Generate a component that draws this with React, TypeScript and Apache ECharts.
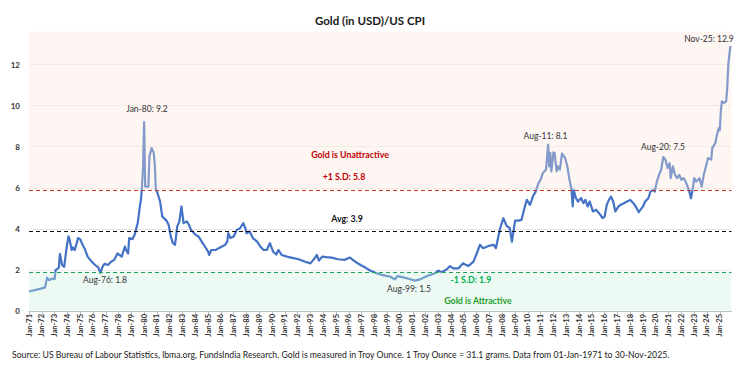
import React, { useEffect, useRef } from "react";
import * as echarts from "echarts";

// months since Jan-1971 (0 = Jan-71, 658 = Nov-25)
const pointMonths = [
  0, 12, 15, 17, 19, 22, 24, 25, 28, 29, 31, 33, 35, 37, 38, 40, 41, 43, 46, 48,
  50, 52, 55, 58, 62, 65, 67, 69, 71, 74, 77, 80, 83, 87, 90, 91, 93, 94, 97, 99,
  100, 102, 104, 105, 106, 107, 108, 109, 110, 112, 113, 115, 117, 118, 119, 120, 121, 123, 125, 127,
  129, 131, 133, 135, 137, 139, 141, 143, 145, 148, 150, 152, 156, 159, 162, 165, 168, 169, 171, 175,
  178, 181, 184, 186, 187, 189, 192, 195, 198, 201, 203, 204, 207, 210, 214, 217, 220, 223, 226, 229,
  232, 234, 237, 242, 246, 253, 259, 264, 268, 270, 272, 275, 279, 284, 290, 296, 301, 306, 311, 315,
  318, 320, 326, 331, 336, 339, 343, 346, 351, 357, 362, 367, 372, 376, 381, 384, 387, 392, 395, 398,
  403, 407, 412, 417, 420, 423, 426, 431, 436, 438, 440, 442, 445, 448, 451, 453, 456, 459, 462, 465,
  467, 470, 473, 475, 478, 480, 482, 485, 487, 488, 489, 490, 492, 493, 495, 496, 498, 500, 503, 505,
  507, 509, 510, 511, 513, 515, 518, 520, 522, 524, 526, 529, 532, 536, 538, 540, 542, 544, 546, 548,
  550, 553, 555, 558, 561, 564, 567, 570, 572, 576, 578, 581, 583, 586, 587, 589, 591, 593, 595, 597,
  599, 601, 602, 604, 606, 608, 610, 612, 614, 616, 619, 621, 623, 624, 626, 629, 631, 633, 635, 637,
  640, 641, 644, 645, 647, 648, 649, 650, 652, 654, 655, 656, 657, 658,
];

// Gold (USD) / US CPI ratio
const pointValues = [
  0.95, 1.1, 1.15, 1.62, 1.5, 1.58, 1.55, 2.0, 2.1, 2.78, 2.24, 2.15, 2.97, 3.63, 3.5, 2.97, 3.1, 2.97, 3.55, 3.5,
  3.25, 3.06, 2.65, 2.45, 2.24, 2.12, 1.84, 2.16, 2.3, 2.24, 2.4, 2.49, 2.8, 2.65, 3.14, 2.97, 2.8, 3.55, 3.5, 3.7,
  3.9, 4.28, 5.09, 5.4, 6.06, 7.0, 9.2, 6.06, 6.06, 6.06, 7.53, 7.93, 7.7, 7.12, 5.9, 5.82, 5.66, 5.33, 4.6, 4.5,
  4.4, 4.2, 3.63, 3.3, 3.22, 4.11, 4.35, 5.09, 4.28, 4.36, 4.2, 3.95, 3.72, 3.63, 3.38, 3.14, 2.89, 2.73, 2.97, 2.97,
  3.06, 3.14, 3.22, 3.38, 3.79, 3.55, 3.63, 3.95, 4.03, 4.28, 4.03, 3.79, 3.87, 3.55, 3.38, 3.14, 2.97, 2.97, 3.3, 2.89,
  2.75, 2.97, 2.73, 2.65, 2.6, 2.52, 2.4, 2.32, 2.57, 2.73, 2.45, 2.65, 2.62, 2.6, 2.52, 2.49, 2.6, 2.4, 2.24, 2.13,
  2.03, 1.97, 1.84, 1.76, 1.7, 1.67, 1.54, 1.7, 1.64, 1.56, 1.48, 1.54, 1.67, 1.75, 1.84, 1.97, 1.88, 2.03, 2.19, 2.08,
  2.08, 2.32, 2.19, 2.4, 2.8, 3.22, 3.06, 3.17, 3.22, 3.06, 3.55, 4.03, 4.52, 4.15, 4.03, 3.38, 4.4, 4.4, 4.44, 5.05,
  5.41, 5.17, 5.62, 5.78, 6.23, 6.4, 6.72, 6.88, 8.1, 7.04, 7.7, 6.8, 7.72, 7.69, 6.8, 7.04, 6.88, 7.66, 7.44, 7.04,
  6.4, 5.9, 5.09, 5.9, 5.5, 5.33, 5.5, 5.25, 5.41, 5.09, 5.33, 4.85, 4.93, 4.68, 4.52, 4.6, 5.17, 5.41, 5.57, 5.33,
  4.85, 5.09, 5.17, 5.25, 5.33, 5.41, 5.25, 5.01, 4.81, 5.09, 5.33, 5.49, 5.82, 5.9, 5.82, 6.3, 6.63, 6.88, 7.5, 7.37,
  6.96, 7.2, 6.47, 7.04, 6.63, 6.47, 6.63, 6.39, 6.47, 6.3, 5.9, 5.49, 6.06, 6.47, 6.3, 6.47, 6.06, 6.63, 7.04, 7.45,
  7.37, 7.94, 8.19, 8.5, 8.9, 8.8, 9.72, 10.21, 10.13, 10.21, 10.86, 12.0, 12.5, 12.9,
];

const firstYear = 1971;
const lastMonth = 659;
const yMax = 13.6;
const yTicks = [0, 2, 4, 6, 8, 10, 12];

const plusSD = 5.87;
const avg = 3.9;
const minusSD = 1.9;

const FONT = "Lato, 'Liberation Sans', sans-serif";

export default function App() {
  const ref = useRef<HTMLDivElement>(null);
  useEffect(() => {
    if (!ref.current) return;
    const chart = echarts.init(ref.current, null, { renderer: "svg" });
    const data = pointMonths.map((m, i) => [m, pointValues[i]]);
    const txt = (text: string, x: number, y: number, fill: string, weight: string, size: number) => ({
      type: "text",
      x,
      y,
      silent: true,
      z: 100,
      style: {
        text,
        fill,
        fontFamily: FONT,
        fontWeight: weight,
        fontSize: size,
        align: "center",
        verticalAlign: "middle",
      },
    });
    chart.setOption({
      animation: false,
      backgroundColor: "#ffffff",
      title: {
        text: "Gold (in USD)/US CPI",
        left: "center",
        top: 9,
        textStyle: { fontFamily: FONT, fontSize: 11.5, fontWeight: "bold", color: "#1a1a1a" },
      },
      grid: { left: 29, right: 8.5, top: 31.7, bottom: 55, containLabel: false },
      xAxis: {
        type: "value",
        min: 0,
        max: lastMonth,
        interval: 12,
        axisLine: { show: true, lineStyle: { color: "#bfbfbf", width: 1 } },
        axisTick: { show: true, length: 4, lineStyle: { color: "#bfbfbf" } },
        splitLine: { show: false },
        axisLabel: {
          rotate: 90,
          margin: 3,
          showMaxLabel: false,
          fontFamily: FONT,
          fontSize: 7.5,
          fontWeight: "bold",
          color: "#333333",
          formatter: (v: number) => {
            if (v % 12 !== 0) return "";
            const y = firstYear + v / 12;
            return "Jan-" + String(y % 100).padStart(2, "0");
          },
        },
      },
      yAxis: {
        type: "value",
        min: 0,
        max: yMax,
        interval: 2,
        axisLine: { show: false },
        axisTick: { show: false },
        splitLine: { show: true, showMaxLine: false, lineStyle: { color: "#ebebeb", width: 1 } },
        axisLabel: {
          showMaxLabel: false,
          margin: 9,
          fontFamily: FONT,
          fontSize: 8,
          fontWeight: "bold",
          color: "#333333",
          formatter: (v: number) => (yTicks.includes(v) ? String(v) : ""),
        },
      },
      series: [
        {
          type: "line",
          data,
          showSymbol: false,
          symbol: "none",
          z: 2,
          lineStyle: { color: "#4472C4", width: 2.2, join: "round" },
          silent: true,
        },
        {
          type: "line",
          data: [],
          z: 5,
          silent: true,
          markArea: {
            silent: true,
            z: 10,
            data: [
              [
                { yAxis: plusSD, itemStyle: { color: "rgba(250,228,218,0.35)" } },
                { yAxis: yMax },
              ],
              [
                { yAxis: 0, itemStyle: { color: "rgba(204,241,221,0.35)" } },
                { yAxis: minusSD },
              ],
            ],
          },
          markLine: {
            silent: true,
            z: 11,
            symbol: "none",
            label: { show: false },
            data: [
              { yAxis: plusSD, lineStyle: { color: "#c0392b", type: [4, 3], width: 1.2 } },
              { yAxis: avg, lineStyle: { color: "#111111", type: [4, 3], width: 1.2 } },
              { yAxis: minusSD, lineStyle: { color: "#1fa15a", type: [4, 3], width: 1.2 } },
            ],
          },
        },
      ],
      graphic: [
        txt("Gold is Unattractive", 350, 154, "#c00000", "bold", 8.8),
        txt("+1 S.D: 5.8", 344, 176.5, "#c00000", "bold", 8.8),
        txt("Avg: 3.9", 347, 218, "#111111", "bold", 8.8),
        txt("-1 S.D: 1.9", 471, 279, "#00b050", "bold", 8.8),
        txt("Gold is Attractive", 478, 300, "#1e9e2e", "bold", 8.8),
        txt("Jan-80: 9.2", 147, 109, "#333333", "normal", 8.5),
        txt("Aug-76: 1.8", 105, 280, "#333333", "normal", 8.5),
        txt("Aug-99: 1.5", 409, 289, "#333333", "normal", 8.5),
        txt("Aug-11: 8.1", 545.5, 135.5, "#333333", "normal", 8.5),
        txt("Aug-20: 7.5", 663, 146.5, "#333333", "normal", 8.5),
        txt("Nov-25: 12.9", 709, 39, "#333333", "normal", 8.5),
        {
          type: "text",
          left: 12,
          top: 350,
          silent: true,
          style: {
            text:
              "Source: US Bureau of Labour Statistics, lbma.org, FundsIndia Research. Gold is measured in Troy Ounce. 1 Troy Ounce = 31.1 grams. Data from 01-Jan-1971 to 30-Nov-2025.",
            fill: "#222222",
            fontFamily: FONT,
            fontSize: 8.7,
          },
        },
      ],
    });
    return () => chart.dispose();
  }, []);
  return (
    <div
      ref={ref}
      style={{ position: "fixed", left: 0, top: 0, width: 740, height: 366 }}
    />
  );
}
